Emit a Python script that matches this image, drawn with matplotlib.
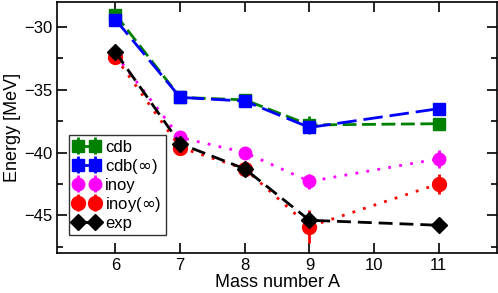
import numpy as np
import matplotlib
matplotlib.use("Agg")
import matplotlib.pyplot as plt
from matplotlib.ticker import MultipleLocator

plt.rcParams['font.family'] = ['Liberation Sans', 'DejaVu Sans']

# Mass numbers
A = [6, 7, 8, 9, 11]

# Energies [MeV]
cdb = [-29.0, -35.6, -35.8, -37.8, -37.7]
cdb_err = [0.0, 0.0, 0.0, 0.7, 0.0]
cdb_inf = [-29.4, -35.6, -35.9, -38.0, -36.5]
cdb_inf_err = [0.0, 0.0, 0.0, 0.3, 0.4]
inoy = [-32.2, -38.8, -40.0, -42.3, -40.5]
inoy_err = [0.0, 0.0, 0.0, 0.6, 0.7]
inoy_inf = [-32.4, -39.6, -41.3, -45.9, -42.5]
inoy_inf_err = [0.0, 0.0, 0.0, 1.3, 0.8]
exp = [-32.0, -39.3, -41.3, -45.4, -45.8]

fig = plt.figure(figsize=(4.98, 2.93), dpi=100)
ax = fig.add_axes([0.115, 0.137, 0.883, 0.856])

h1 = ax.errorbar(A, cdb, yerr=cdb_err, color='#008000', marker='s', ms=9,
                 ls=(0, (5, 2)), lw=2, elinewidth=2, capsize=0, label='cdb', zorder=2)
h2 = ax.errorbar(A, cdb_inf, yerr=cdb_inf_err, color='#0000ff', marker='s', ms=9,
                 ls=(0, (7, 2.5)), lw=2, elinewidth=2, capsize=0, label=r'cdb($\infty$)', zorder=3)
h3 = ax.errorbar(A, inoy, yerr=inoy_err, color='#ff00ff', marker='o', ms=9,
                 ls=(0, (1, 3)), lw=2, elinewidth=2, capsize=0, label='inoy', zorder=4)
h4 = ax.errorbar(A, inoy_inf, yerr=inoy_inf_err, color='#ff0000', marker='o', ms=10,
                 ls=(0, (1, 3)), lw=2, elinewidth=2, capsize=0, label=r'inoy($\infty$)', zorder=5)
h5, = ax.plot(A, exp, color='black', marker='D', ms=8, ls=(0, (5, 2.5)), lw=2,
              label='exp', zorder=6)

ax.set_xlim(5.1, 11.9)
ax.set_ylim(-48, -28)
ax.set_xticks([6, 7, 8, 9, 10, 11])
ax.yaxis.set_major_locator(MultipleLocator(5))
ax.yaxis.set_minor_locator(MultipleLocator(2.5))
ax.tick_params(which='both', direction='in', top=True, right=True, width=1.2,
               labelsize=12)
ax.tick_params(which='major', length=7)
ax.tick_params(which='minor', length=4)
for s in ax.spines.values():
    s.set_linewidth(1.2)

ax.set_xlabel('Mass number A', fontsize=13, labelpad=1)
ax.set_ylabel('Energy [MeV]', fontsize=13, labelpad=2)

leg = ax.legend([h1, h2, h3, h4, h5],
                ['cdb', r'cdb($\infty$)', 'inoy', r'inoy($\infty$)', 'exp'],
                loc='lower left', bbox_to_anchor=(0.027, 0.072), fontsize=12,
                frameon=True, fancybox=False, edgecolor='black',
                handlelength=1.6, handletextpad=0.3, borderpad=0.25,
                labelspacing=0.12, borderaxespad=0, numpoints=2)
leg.get_frame().set_linewidth(1.0)

fig.savefig('out.png', dpi=100)
